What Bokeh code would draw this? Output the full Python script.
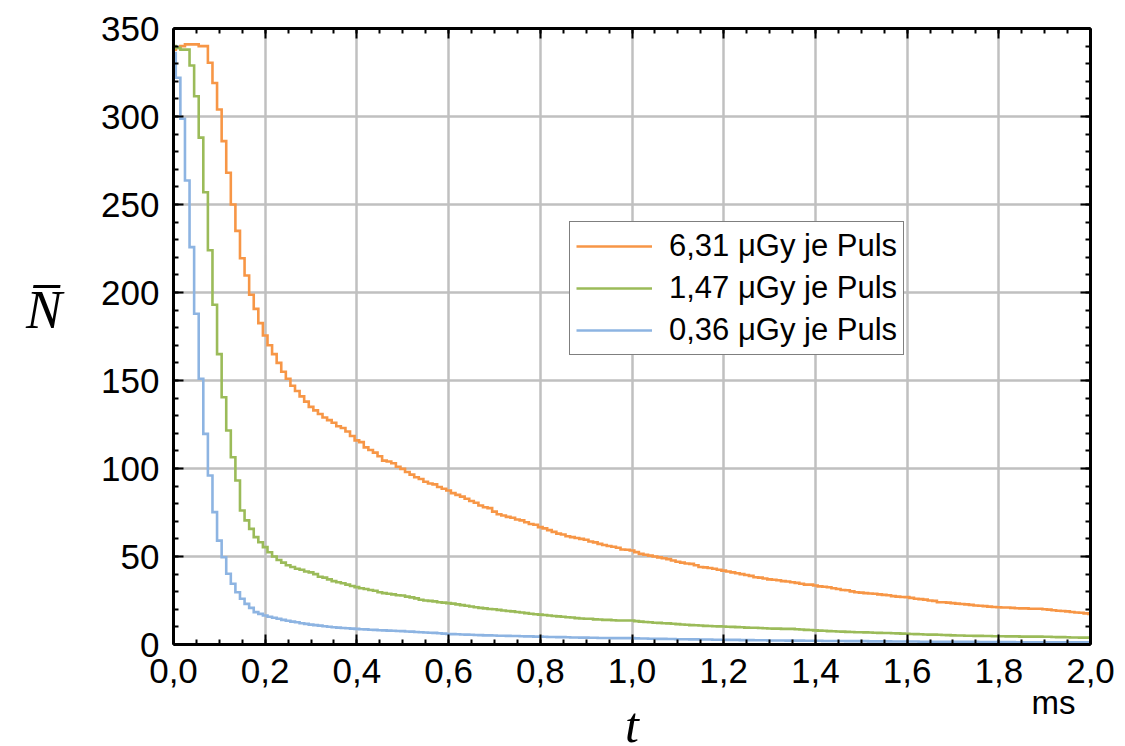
import numpy as np
from bokeh.plotting import figure
from bokeh.models import (Range1d, LinearAxis, FixedTicker, Legend, LegendItem, Title)
from bokeh.embed import file_html
from bokeh.resources import INLINE

# ---- data -------------------------------------------------------------
bin_width_ms = 0.01
n_bins = 201
t_ms = [round(i * bin_width_ms, 2) for i in range(n_bins)]

series_labels = ["6,31 \u03bcGy je Puls", "1,47 \u03bcGy je Puls", "0,36 \u03bcGy je Puls"]
series_colors = ["#F79646", "#9BBB59", "#8DB4E2"]

n_631 = [
    338, 339, 340, 341, 341, 341, 340, 340, 330.5, 319,
    304, 286, 268, 250, 235, 219.5, 209.7, 198.7, 190.7, 182.6,
    175.6, 170, 165, 160, 155, 151, 147, 144, 141, 138,
    135, 133, 131, 129, 127.5, 126, 124, 123, 121, 118.5,
    116, 115, 112, 110.5, 109, 107, 104.5, 104, 103, 101,
    99.8, 98, 96.5, 95, 94, 92.5, 91.5, 91, 89.5, 88.5,
    87.5, 86, 85, 84, 82.8, 81.5, 80.5, 79, 78, 77.5,
    75.5, 74, 73.3, 72.5, 72, 71, 70.5, 69.5, 68.5, 68,
    66.7, 66, 65, 64, 63, 62.5, 61.5, 61, 60.5, 60,
    59.5, 58.5, 58, 57.2, 56.5, 56, 55.5, 55, 54, 53.8,
    53.4, 52.5, 51.5, 51, 50.5, 50, 49.5, 49, 48.5, 47.7,
    47, 46.5, 46, 45.8, 45, 44, 43.8, 43.5, 43, 42.5,
    42, 41.5, 41, 40.5, 40, 39.5, 39, 38.2, 38, 37.5,
    37, 36.8, 36.5, 36, 35.8, 35.4, 35, 34.5, 34, 34,
    33.5, 33, 32.8, 32.5, 32, 31.5, 31, 30.8, 30.2, 29.7,
    29.5, 29.2, 29, 28.8, 28.5, 28.2, 28, 27.5, 27.2, 27,
    26.9, 26.5, 26, 25.8, 25.5, 25, 24.8, 24, 24, 23.8,
    23.5, 23.2, 23, 22.8, 22.5, 22.2, 22, 21.8, 21.5, 21.3,
    21.2, 21, 21, 20.8, 20.6, 20.5, 20.5, 20.3, 20.3, 20.3,
    20, 19.8, 19.5, 19.2, 19, 18.8, 18.5, 18.2, 18, 17.7,
    17.4,
]

n_147 = [
    340, 339, 338, 338, 329, 311.5, 288, 257, 224, 193,
    165, 140.5, 121.6, 106.4, 93.2, 76.1, 70.5, 65.7, 61, 58.1,
    55.3, 52.4, 50, 48, 46.5, 45, 44, 43, 42.5, 41.5,
    41, 40, 38.5, 38, 37, 36, 35.4, 34.8, 34, 33.2,
    32.6, 32, 31.5, 31, 30.5, 29.7, 29.2, 28.8, 28.5, 28,
    27.8, 27.2, 26.8, 26.2, 25.4, 25, 24.8, 24.5, 24, 23.8,
    23.5, 23.2, 22.8, 22.4, 22, 21.6, 21.2, 20.8, 20.5, 20.2,
    20, 19.7, 19.3, 19, 18.8, 18.5, 18.2, 17.8, 17.5, 17.2,
    17, 16.8, 16.5, 16.2, 16, 15.8, 15.5, 15.3, 15, 14.8,
    14.6, 14.6, 14.3, 14.2, 14, 14, 13.8, 13.6, 13.6, 13.6,
    13.6, 13.3, 13, 12.8, 12.6, 12.4, 12.3, 12.1, 12, 11.8,
    11.6, 11.4, 11.2, 11, 10.9, 10.8, 10.6, 10.5, 10.4, 10.3,
    10.2, 10.1, 10, 9.9, 9.8, 9.6, 9.5, 9.5, 9.4, 9.2,
    9.1, 9, 9, 8.9, 8.9, 8.9, 8.7, 8.5, 8.3, 8.2,
    8, 7.9, 7.8, 7.6, 7.5, 7.4, 7.3, 7.2, 7.1, 7,
    7, 6.9, 6.8, 6.7, 6.6, 6.5, 6.5, 6.4, 6.3, 6.2,
    6.1, 6, 5.9, 5.8, 5.7, 5.6, 5.6, 5.5, 5.4, 5.3,
    5.2, 5.1, 5.1, 5, 5, 4.9, 4.9, 4.8, 4.8, 4.7,
    4.7, 4.7, 4.6, 4.6, 4.6, 4.5, 4.5, 4.5, 4.5, 4.5,
    4.4, 4.4, 4.3, 4.2, 4.2, 4.1, 4, 4, 3.9, 3.9,
    3.8,
]

n_036 = [
    336, 322, 298.7, 263.6, 225.8, 187.9, 151, 119.7, 96, 75.2,
    59, 49.6, 40.2, 34.5, 29.7, 26, 23.1, 20.8, 18.4, 17.4,
    16.5, 15.8, 15.2, 14.6, 14, 13.5, 13, 12.6, 12.1, 11.7,
    11.3, 11, 10.7, 10.4, 10.1, 9.8, 9.6, 9.4, 9.2, 9,
    8.9, 8.7, 8.6, 8.4, 8.3, 8.1, 8, 7.9, 7.8, 7.7,
    7.6, 7.4, 7.3, 7.1, 7, 6.8, 6.7, 6.6, 6.4, 6.2,
    6, 5.9, 5.8, 5.7, 5.6, 5.5, 5.4, 5.3, 5.2, 5.2,
    5.1, 5, 5, 4.9, 4.8, 4.8, 4.7, 4.6, 4.6, 4.5,
    4.5, 4.4, 4.3, 4.3, 4.2, 4.2, 4.1, 4, 4, 3.9,
    3.9, 3.8, 3.8, 3.7, 3.7, 3.7, 3.6, 3.6, 3.6, 3.6,
    3.6, 3.5, 3.4, 3.4, 3.3, 3.3, 3.2, 3.2, 3.1, 3.1,
    3, 3, 3, 2.9, 2.9, 2.8, 2.8, 2.8, 2.7, 2.7,
    2.7, 2.6, 2.6, 2.6, 2.5, 2.5, 2.5, 2.4, 2.4, 2.4,
    2.3, 2.3, 2.3, 2.3, 2.2, 2.2, 2.2, 2.2, 2.1, 2.1,
    2.1, 2.1, 2, 2, 2, 2, 2, 1.9, 1.9, 1.9,
    1.9, 1.9, 1.8, 1.8, 1.8, 1.8, 1.8, 1.7, 1.7, 1.7,
    1.7, 1.7, 1.7, 1.6, 1.6, 1.6, 1.6, 1.6, 1.6, 1.5,
    1.5, 1.5, 1.5, 1.5, 1.5, 1.5, 1.4, 1.4, 1.4, 1.4,
    1.4, 1.4, 1.4, 1.4, 1.3, 1.3, 1.3, 1.3, 1.3, 1.3,
    1.3, 1.3, 1.2, 1.2, 1.2, 1.2, 1.2, 1.2, 1.2, 1.2,
    1.2,
]

x_ticks = [0.0, 0.2, 0.4, 0.6, 0.8, 1.0, 1.2, 1.4, 1.6, 1.8, 2.0]
x_tick_labels = ["0,0", "0,2", "0,4", "0,6", "0,8", "1,0", "1,2", "1,4", "1,6", "1,8", "2,0"]
y_ticks = [0, 50, 100, 150, 200, 250, 300, 350]
y_tick_labels = ["0", "50", "100", "150", "200", "250", "300", "350"]
x_minor = [round(i * 0.05, 2) for i in range(41)]
y_minor = list(range(0, 351, 10))

x_unit = "ms"
x_title = "t"
y_title = "N\u0305\n "

# ---- figure -----------------------------------------------------------
FONT = "Liberation Sans"
SERIF = "Liberation Serif"

p = figure(frame_width=917, frame_height=616,
           min_border_left=173, min_border_right=27,
           min_border_top=28, min_border_bottom=100,
           x_range=Range1d(0, 2.0), y_range=Range1d(0, 350),
           output_backend="svg", toolbar_location=None,
           background_fill_color="white", border_fill_color="white")
p.outline_line_color = None

xt = FixedTicker(ticks=x_ticks, minor_ticks=x_minor)
yt = FixedTicker(ticks=y_ticks, minor_ticks=y_minor)


def style_axis(ax, show_labels):
    ax.axis_line_color = "black"
    ax.axis_line_width = 3
    ax.major_tick_line_color = "black"
    ax.major_tick_line_width = 2
    ax.minor_tick_line_color = "black"
    ax.minor_tick_line_width = 2
    ax.major_tick_in = 10
    ax.major_tick_out = 0
    ax.minor_tick_in = 5
    ax.minor_tick_out = 0
    ax.major_label_text_font = FONT
    ax.major_label_text_color = "black"
    if show_labels:
        ax.major_label_text_font_size = "35px"
    else:
        ax.major_label_text_font_size = "0px"
        ax.major_label_standoff = 0


xa = p.xaxis[0]
xa.ticker = xt
xa.major_label_overrides = dict(zip(x_ticks, x_tick_labels))
style_axis(xa, True)
xa.major_label_standoff = 14

ya = p.yaxis[0]
ya.ticker = yt
ya.major_label_overrides = dict(zip(y_ticks, y_tick_labels))
style_axis(ya, True)
ya.major_label_standoff = 14
ya.axis_label = y_title
ya.axis_label_orientation = "horizontal"
ya.axis_label_text_font = SERIF
ya.axis_label_text_font_style = "italic"
ya.axis_label_text_font_size = "54px"
ya.axis_label_text_line_height = 0.9
ya.axis_label_text_color = "black"
ya.axis_label_standoff = 36

top = LinearAxis(ticker=FixedTicker(ticks=x_ticks, minor_ticks=x_minor))
style_axis(top, False)
p.add_layout(top, "above")
right = LinearAxis(ticker=FixedTicker(ticks=y_ticks, minor_ticks=y_minor))
style_axis(right, False)
p.add_layout(right, "right")

p.xgrid.ticker = xt
p.ygrid.ticker = yt
for g in (p.xgrid[0], p.ygrid[0]):
    g.grid_line_color = "#C0C0C0"
    g.grid_line_width = 2.5

renderers = []
for vals, col in zip([n_631, n_147, n_036], series_colors):
    r = p.step(x=t_ms, y=vals, mode="center", line_color=col, line_width=2.6,
               line_join="miter")
    renderers.append(r)

legend = Legend(items=[LegendItem(label=lab, renderers=[r])
                       for lab, r in zip(series_labels, renderers)],
                location=(396, 289))
legend.label_text_font = FONT
legend.label_text_font_size = "31px"
legend.label_text_color = "black"
legend.glyph_width = 76
legend.glyph_height = 32
legend.label_height = 32
legend.label_standoff = 17
legend.spacing = 6
legend.padding = 6
legend.margin = 0
legend.border_line_color = "black"
legend.border_line_width = 1
legend.background_fill_color = "white"
legend.background_fill_alpha = 1.0
p.add_layout(legend, "center")

# x unit and x title stacked below the axis
p.add_layout(Title(text=x_unit, align="right", offset=15, standoff=-7,
                   text_font=FONT, text_font_size="33px", text_font_style="normal",
                   text_color="black"), "below")
p.add_layout(Title(text=x_title, align="center", offset=0, standoff=-45,
                   text_font=SERIF, text_font_size="50px", text_font_style="italic",
                   text_color="black"), "below")

open("out.html", "w").write(file_html(p, INLINE))
